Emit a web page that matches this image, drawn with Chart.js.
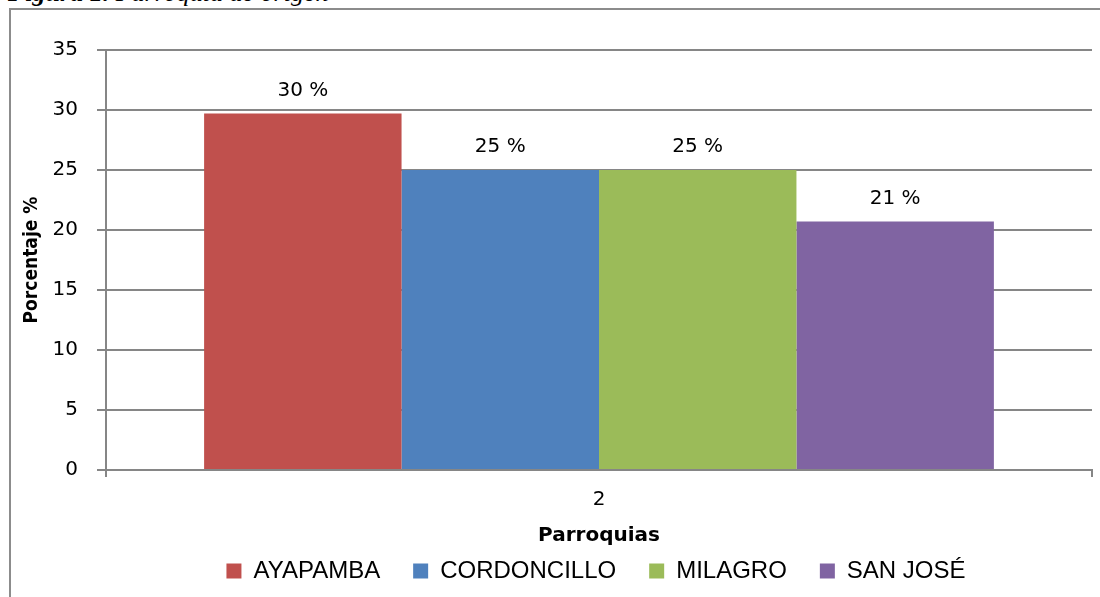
<!DOCTYPE html>
<html>
<head>
<meta charset="utf-8">
<script src="https://cdn.jsdelivr.net/npm/chart.js@4.4.1/dist/chart.umd.min.js"></script>
<style>
  html, body { margin: 0; padding: 0; background: #fff; }
  body { width: 1100px; height: 597px; position: relative; overflow: hidden; }
  #caption {
    position: absolute; left: 8px; top: -20px;
    font-family: "Liberation Serif", serif; font-style: italic; font-size: 26px; line-height: 26px;
    color: #000; white-space: nowrap;
  }
  #frame {
    position: absolute; left: 9px; top: 8px; width: 1200px; height: 700px;
    border-left: 2px solid #8c8c8c; border-top: 2px solid #8c8c8c;
  }
  #wrap { position: absolute; left: 0; top: 0; width: 1100px; height: 597px; }
</style>
</head>
<body>
<div id="caption"><b>Figura 1.</b> Parroquia de origen</div>
<div id="frame"></div>
<div id="wrap"><canvas id="chart"></canvas></div>
<script>
// ---- data ----
const categories = ['2'];
const parroquias = ['AYAPAMBA', 'CORDONCILLO', 'MILAGRO', 'SAN JOSÉ'];
const porcentajes = [29.7, 25.0, 25.0, 20.7];
const etiquetas = ['30 %', '25 %', '25 %', '21 %'];
const colores = ['#c0504d', '#4f81bd', '#9bbb59', '#8064a2'];
const yTicks = { min: 0, max: 35, step: 5 };

const gridGrey = '#868686';
const tickFont = { family: 'DejaVu Sans', size: 20 };

// bar value labels ("30 %") above each bar
const valueLabels = {
  id: 'valueLabels',
  afterDatasetsDraw(chart) {
    const ctx = chart.ctx;
    ctx.save();
    ctx.font = '20px "DejaVu Sans"';
    ctx.fillStyle = '#000';
    ctx.textAlign = 'center';
    ctx.textBaseline = 'middle';
    chart.data.datasets.forEach((ds, i) => {
      const bar = chart.getDatasetMeta(i).data[0];
      ctx.fillText(etiquetas[i], bar.x, bar.y - 23);
    });
    ctx.restore();
  }
};

// center the legend under the plot area, not under the whole canvas
const legendUnderPlot = {
  id: 'legendUnderPlot',
  afterLayout(chart) {
    const lg = chart.legend;
    const mid = (chart.chartArea.left + chart.chartArea.right) / 2 - 3;
    const shift = mid - (lg.left + lg.right) / 2;
    lg.left += shift;
    lg.right += shift;
  }
};

new Chart(document.getElementById('chart'), {
  type: 'bar',
  data: {
    labels: categories,
    datasets: parroquias.map((name, i) => ({
      label: name,
      data: [porcentajes[i]],
      backgroundColor: colores[i],
      borderWidth: 0,
      categoryPercentage: 0.801,
      barPercentage: 1
    }))
  },
  options: {
    responsive: true,
    maintainAspectRatio: false,
    animation: false,
    layout: { padding: { left: 10, right: 8, top: 50, bottom: 4 } },
    plugins: {
      tooltip: { enabled: false },
      legend: {
        position: 'bottom',
        labels: {
          color: '#000',
          font: { family: 'Liberation Sans', size: 24 },
          boxWidth: 15,
          boxHeight: 15,
          padding: 33
        }
      }
    },
    scales: {
      y: {
        min: yTicks.min,
        max: yTicks.max,
        afterFit: s => { s.width = 96; },
        ticks: { stepSize: yTicks.step, color: '#000', font: tickFont, padding: 19 },
        grid: { color: gridGrey, lineWidth: 2, tickLength: 9 },
        border: { color: gridGrey, width: 2 },
        title: {
          display: true,
          text: 'Porcentaje %',
          color: '#000',
          font: { family: 'DejaVu Sans Condensed', size: 19, weight: 'bold' },
          padding: { top: 11, bottom: 0 }
        }
      },
      x: {
        afterFit: s => { s.height = 56; },
        ticks: { color: '#000', font: tickFont, padding: 11 },
        grid: { color: gridGrey, lineWidth: 2, drawOnChartArea: false, tickLength: 7, offset: true },
        border: { color: gridGrey, width: 2 },
        title: {
          display: true,
          text: 'Parroquias',
          color: '#000',
          font: { family: 'DejaVu Sans', size: 20, weight: 'bold' },
          padding: { top: 0, bottom: -22 }
        }
      }
    }
  },
  plugins: [valueLabels, legendUnderPlot]
});
</script>
</body>
</html>
